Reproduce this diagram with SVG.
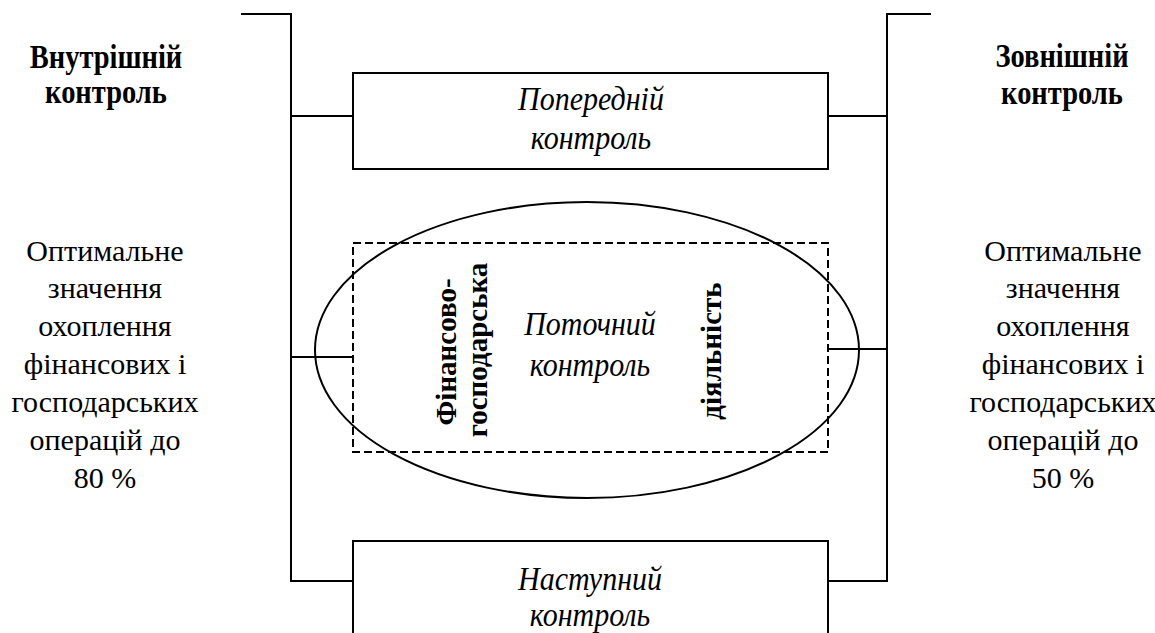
<svg xmlns="http://www.w3.org/2000/svg" width="1155" height="633" viewBox="0 0 1155 633">
<style>
.ln{fill:none;stroke:#000;stroke-width:2}
.box{fill:#fff;stroke:#000;stroke-width:2}
.dash{fill:none;stroke:#000;stroke-width:2;stroke-dasharray:8,4}
text{font-family:'Liberation Serif','Times New Roman',serif;text-anchor:middle}
.it{font-style:italic;font-size:30px}
.hd{font-weight:bold;font-size:28.5px}
.nt{font-size:30px}
.vt{font-weight:bold;font-size:29px}
</style>
<rect width="1155" height="633" fill="#fff"/>
<g id="connectors">
<path class="ln" d="M241,14 H291 V581 H353"/>
<path class="ln" d="M931,14 H887 V581 H828"/>
<path class="ln" d="M291,116 H353"/>
<path class="ln" d="M828,116 H887"/>
<path class="ln" d="M291,357 H353"/>
<path class="ln" d="M828,349 H887"/>
</g>
<g id="internal">
<text class="hd" transform="translate(106,68) scale(1,1.15)">Внутрішній</text>
<text class="hd" transform="translate(106,103) scale(1,1.15)">контроль</text>
<text class="nt"><tspan x="105" y="261">Оптимальне</tspan><tspan x="105" y="298">значення</tspan><tspan x="105" y="336">охоплення</tspan><tspan x="105" y="374">фінансових і</tspan><tspan x="105" y="412">господарських</tspan><tspan x="105" y="450">операцій до</tspan><tspan x="105" y="488">80 %</tspan></text>
</g>
<g id="external">
<text class="hd" transform="translate(1062,67) scale(1,1.15)">Зовнішній</text>
<text class="hd" transform="translate(1062,104) scale(1,1.15)">контроль</text>
<text class="nt"><tspan x="1063" y="261">Оптимальне</tspan><tspan x="1063" y="298">значення</tspan><tspan x="1063" y="336">охоплення</tspan><tspan x="1063" y="374">фінансових і</tspan><tspan x="1063" y="412">господарських</tspan><tspan x="1063" y="450">операцій до</tspan><tspan x="1063" y="488">50 %</tspan></text>
</g>
<g id="preliminary">
<rect class="box" x="353" y="73" width="475" height="96"/>
<text class="it" transform="translate(591,110) scale(1,1.1)">Попередній</text>
<text class="it" transform="translate(591,149) scale(1,1.1)">контроль</text>
</g>
<g id="current">
<ellipse class="ln" cx="587" cy="350" rx="272" ry="148"/>
<rect class="dash" x="353" y="243" width="475" height="209"/>
<text class="it" transform="translate(590,335) scale(1,1.1)">Поточний</text>
<text class="it" transform="translate(590,376) scale(1,1.1)">контроль</text>
<text class="vt" transform="translate(456,352) rotate(-90)">Фінансово-</text>
<text class="vt" transform="translate(487,350) rotate(-90)">господарська</text>
<text class="vt" transform="translate(721,351) rotate(-90)">діяльність</text>
</g>
<g id="subsequent">
<rect class="box" x="353" y="541" width="475" height="100"/>
<text class="it" transform="translate(590,590) scale(1,1.1)">Наступний</text>
<text class="it" transform="translate(590,626) scale(1,1.1)">контроль</text>
</g>
</svg>
